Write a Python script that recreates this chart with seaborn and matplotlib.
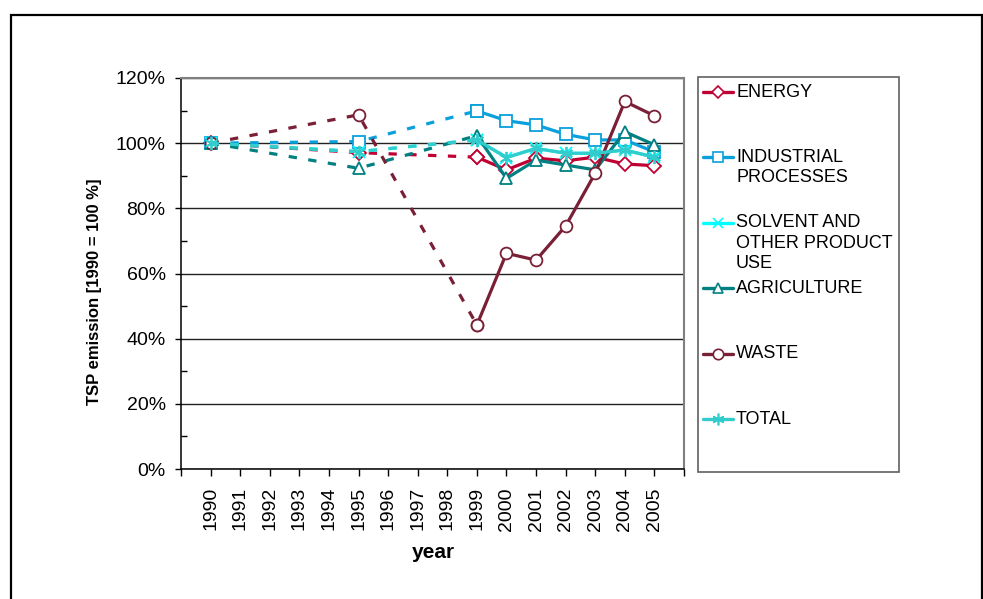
import matplotlib
matplotlib.use("Agg")
import matplotlib.pyplot as plt
import seaborn as sns
import pandas as pd
from matplotlib.ticker import PercentFormatter, FixedLocator
from matplotlib.lines import Line2D
from matplotlib.patches import Rectangle

# TSP emission indices relative to 1990 (1990 = 100 %)
years = [1990, 1995, 1999, 2000, 2001, 2002, 2003, 2004, 2005]
energy = [100.0, 97.1, 95.7, 91.8, 95.4, 94.6, 95.7, 93.6, 93.1]
industrial = [100.0, 100.5, 109.9, 106.9, 105.6, 102.7, 101.0, 101.0, 97.3]
solvent = [100.0, 97.4, 101.0, 95.6, 98.4, 96.9, 96.9, 97.9, 95.7]
agriculture = [100.0, 92.3, 102.3, 89.2, 94.8, 93.3, 91.8, 103.5, 99.5]
waste = [100.0, 108.7, 44.2, 66.2, 64.1, 74.6, 90.8, 112.8, 108.4]
total = [100.0, 97.4, 101.0, 95.6, 98.4, 96.9, 96.9, 97.9, 95.7]

series_names = ["ENERGY", "INDUSTRIAL\nPROCESSES", "SOLVENT AND\nOTHER PRODUCT\nUSE",
                "AGRICULTURE", "WASTE", "TOTAL"]
series_values = [energy, industrial, solvent, agriculture, waste, total]
axis_years = list(range(1990, 2006))

colors = ["#C00032", "#0AA0DC", "#00FFFF", "#008080", "#7A2036", "#33CCCC"]
markers = ["D", "s", "x", "^", "o", (6, 2, 0)]
msizes = [7, 8, 8, 8, 8.5, 9.5]

W, H = 983, 599
sns.set_style("white")
plt.rcParams["font.family"] = ["Liberation Sans", "DejaVu Sans"]
plt.rcParams["text.color"] = "black"
plt.rcParams["xtick.color"] = "black"
plt.rcParams["ytick.color"] = "black"
plt.rcParams["axes.labelcolor"] = "black"

fig = plt.figure(figsize=(W / 100, H / 100), dpi=100)


def fx(x):
    return x / W


def fy(y):
    return 1 - y / H


ax = fig.add_axes([fx(181), fy(469), (684 - 181) / W, (469 - 78) / H])

rows = []
for name, vals in zip(series_names, series_values):
    for yr, v in zip(years, vals):
        rows.append({"series": name, "year": yr, "value": v})
df = pd.DataFrame(rows)

for i, name in enumerate(series_names):
    sub = df[df["series"] == name]
    gap = sub[sub["year"] <= 1999]
    cont = sub[sub["year"] >= 1999]
    style = dict(color=colors[i], marker=markers[i], markersize=msizes[i],
                 markerfacecolor="white", markeredgecolor=colors[i],
                 markeredgewidth=1.3, linewidth=2.3, ax=ax, legend=False,
                 zorder=3 + i)
    sns.lineplot(data=gap, x="year", y="value", linestyle=(0, (2.6, 3.6)), **style)
    sns.lineplot(data=cont, x="year", y="value", linestyle="-", **style)

ax.set_xlim(1989, 2006)
ax.set_ylim(0, 120)
ax.xaxis.set_major_locator(FixedLocator(list(range(1989, 2007))))
ax.set_xticklabels([""] + [str(y) for y in axis_years] + [""], rotation=90, fontsize=14)
ax.yaxis.set_major_locator(FixedLocator([0, 20, 40, 60, 80, 100, 120]))
ax.yaxis.set_minor_locator(FixedLocator([10, 30, 50, 70, 90, 110]))
ax.yaxis.set_major_formatter(PercentFormatter(decimals=0))
ax.tick_params(axis="y", which="major", direction="out", length=4, width=1,
               color="black", labelcolor="black", labelsize=14, pad=7, left=True)
ax.tick_params(axis="y", which="minor", direction="in", length=4.5, width=1,
               color="black", left=True)
ax.tick_params(axis="x", direction="out", length=5, width=1, color="black",
               labelcolor="black", pad=8, bottom=True)
ax.set_xlabel("")
ax.set_ylabel("")

ax.set_axisbelow(True)
ax.grid(axis="y", which="major", color="#222222", linewidth=1.0)
ax.grid(axis="x", visible=False)
for side in ["left", "bottom"]:
    ax.spines[side].set_color("black")
    ax.spines[side].set_linewidth(1.1)
for side in ["top", "right"]:
    ax.spines[side].set_color("#808080")
    ax.spines[side].set_linewidth(1.5)

fig.text(fx(95), fy(292), "TSP emission [1990 = 100 %]", rotation=90,
         ha="center", va="center", fontsize=12, fontweight="bold", color="black")
fig.text(fx(433), fy(553), "year", ha="center", va="center",
         fontsize=15, fontweight="bold", color="black")

# legend panel
fig.patches.append(Rectangle((fx(698), fy(472)), (899 - 698) / W, (472 - 77) / H,
                             transform=fig.transFigure, fill=False,
                             edgecolor="#606060", linewidth=1.2))
for i, name in enumerate(series_names):
    y0 = 92 + 65.4 * i
    fig.lines.append(Line2D([fx(703), fx(733)], [fy(y0), fy(y0)],
                            transform=fig.transFigure, color=colors[i], linewidth=2.4))
    fig.lines.append(Line2D([fx(718)], [fy(y0)], transform=fig.transFigure,
                            marker=markers[i], markersize=msizes[i] - 1,
                            markerfacecolor="white", markeredgecolor=colors[i],
                            markeredgewidth=1.2, linestyle="none"))
    for j, line in enumerate(name.split("\n")):
        fig.text(fx(736), fy(y0 + 20.5 * j), line, ha="left", va="center",
                 fontsize=13, color="black")

# outer frame of the chart area
fig.patches.append(Rectangle((fx(11), fy(620)), (982 - 11) / W, (620 - 15) / H,
                             transform=fig.transFigure, fill=False,
                             edgecolor="black", linewidth=1.6, clip_on=False))

fig.savefig("out.png", dpi=100, facecolor="white")
